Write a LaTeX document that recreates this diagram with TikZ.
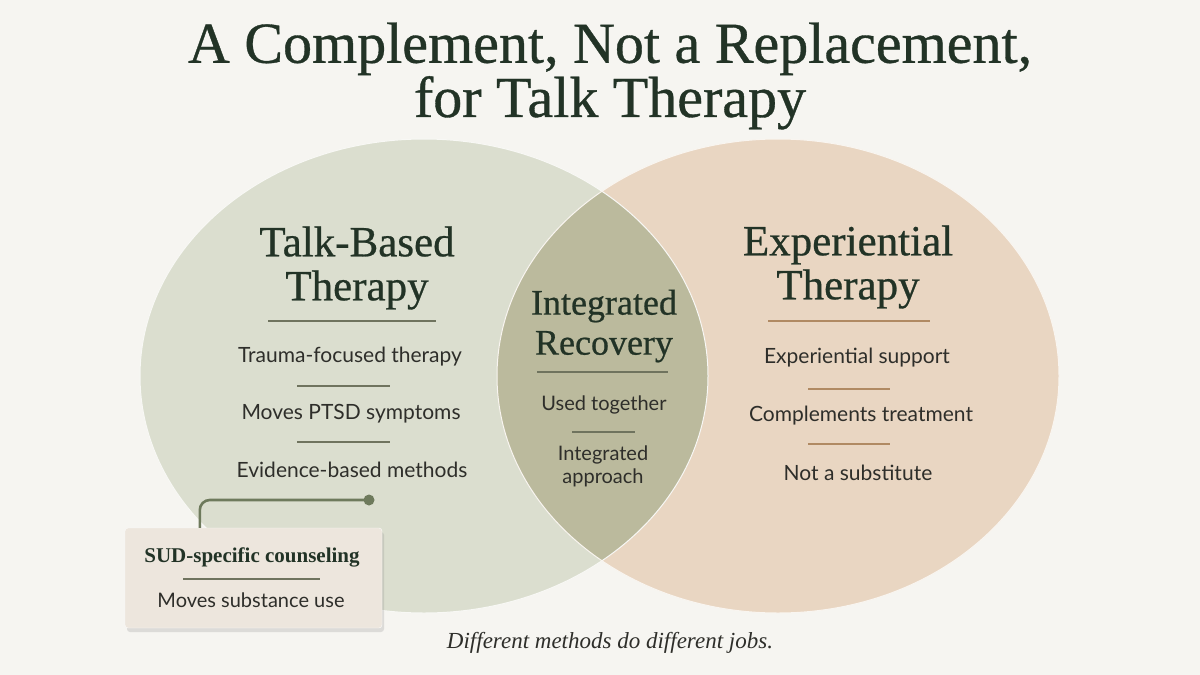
\documentclass[tikz,border=0pt]{standalone}
\usepackage{fontspec}
\setmainfont{Liberation Serif}
\newfontfamily\headfont[FakeBold=0.6]{Liberation Serif}
\newfontfamily\bodyfont{Lato}
\usetikzlibrary{shadows}
\definecolor{bg}{HTML}{F6F5F1}
\definecolor{sage}{HTML}{DBDECF}
\definecolor{peach}{HTML}{E9D6C2}
\definecolor{lenscol}{HTML}{BBBA9D}
\definecolor{ink}{HTML}{223326}
\definecolor{txt}{HTML}{2E2E2A}
\definecolor{oliverule}{HTML}{6F735E}
\definecolor{brownrule}{HTML}{B08A63}
\definecolor{boxfill}{HTML}{EDE6DD}
\definecolor{conncol}{HTML}{6E7A5C}
\begin{document}
\begin{tikzpicture}[x=1pt,y=-1pt,
  title/.style={font=\headfont\fontsize{58}{53}\selectfont, text=ink, align=center},
  heading/.style={font=\headfont\fontsize{43}{44}\selectfont, text=ink, align=center},
  midhead/.style={font=\headfont\fontsize{36}{40}\selectfont, text=ink, align=center},
  item/.style={font=\bodyfont\fontsize{21}{24}\selectfont, text=txt, align=center},
  rulegreen/.style={draw=oliverule, line width=1.3pt},
  rulebrown/.style={draw=brownrule, line width=1.3pt},
  conn/.style={draw=conncol, line width=2.6pt, rounded corners=10pt},
  callout/.style={fill=boxfill, draw=white!85!boxfill, rounded corners=3pt, minimum width=257pt, minimum height=100pt, drop shadow={shadow xshift=2pt, shadow yshift=-4pt, opacity=0.22}},
  ]
\useasboundingbox (0,0) rectangle (1200,675);
\fill[bg] (0,0) rectangle (1200,675);

% circles
\fill[sage] (424,376) ellipse [x radius=284pt, y radius=237pt];
\fill[peach] (778,376) ellipse [x radius=281pt, y radius=237pt];
\begin{scope}
  \clip (424,376) ellipse [x radius=284pt, y radius=237pt];
  \fill[lenscol] (778,376) ellipse [x radius=281pt, y radius=237pt];
\end{scope}
\draw[white!80!sage, line width=1pt] (424,376) ellipse [x radius=284pt, y radius=237pt];
\draw[white!75!peach, line width=1pt] (778,376) ellipse [x radius=281pt, y radius=237pt];

% title
\node[title] (ttl) at (610,76) {A Complement, Not a Replacement,\\ for Talk Therapy};

% left
\node[heading] (lh) at (357,268) {Talk-Based\\Therapy};
\draw[rulegreen] (268,321) -- (436,321);
\node[item] (l1) at (350,357) {Trauma-focused therapy};
\draw[rulegreen] (297,386) -- (390,386);
\node[item] (l2) at (351,414) {Moves PTSD symptoms};
\draw[rulegreen] (297,442) -- (390,442);
\node[item] (l3) at (352,470) {Evidence-based methods};

% middle
\node[midhead] (mh) at (604,326) {Integrated\\Recovery};
\draw[rulegreen] (537,372) -- (668,372);
\node[item, font=\bodyfont\fontsize{20}{23}\selectfont] (m1) at (604,405) {Used together};
\draw[rulegreen] (572,432) -- (635,432);
\node[item, font=\bodyfont\fontsize{20}{23}\selectfont] (m2) at (603,466) {Integrated\\approach};

% right
\node[heading] (rh) at (848,267) {Experiential\\Therapy};
\draw[rulebrown] (768,321) -- (930,321);
\node[item] (r1) at (857,358) {Experiential support};
\draw[rulebrown] (808,389) -- (890,389);
\node[item] (r2) at (861,416) {Complements treatment};
\draw[rulebrown] (808,444) -- (890,444);
\node[item] (r3) at (858,473) {Not a substitute};

% callout
\node[callout] (box) at (253.5,578) {};
\node[circle, fill=conncol, inner sep=0pt, minimum size=11pt] (dot) at (369,500) {};
\draw[conn] (dot.center) -| ([xshift=75pt]box.north west);
\node[font=\bfseries\fontsize{21}{24}\selectfont, text=ink] (b1) at (252,557) {SUD-specific counseling};
\draw[rulegreen] (183,579) -- (320,579);
\node[item, font=\bodyfont\fontsize{20}{23}\selectfont] (b2) at (251,600) {Moves substance use};

% caption
\node[font=\itshape\fontsize{23}{25}\selectfont, text=txt] (cap) at (610,643) {Different methods do different jobs.};
\end{tikzpicture}
\end{document}
